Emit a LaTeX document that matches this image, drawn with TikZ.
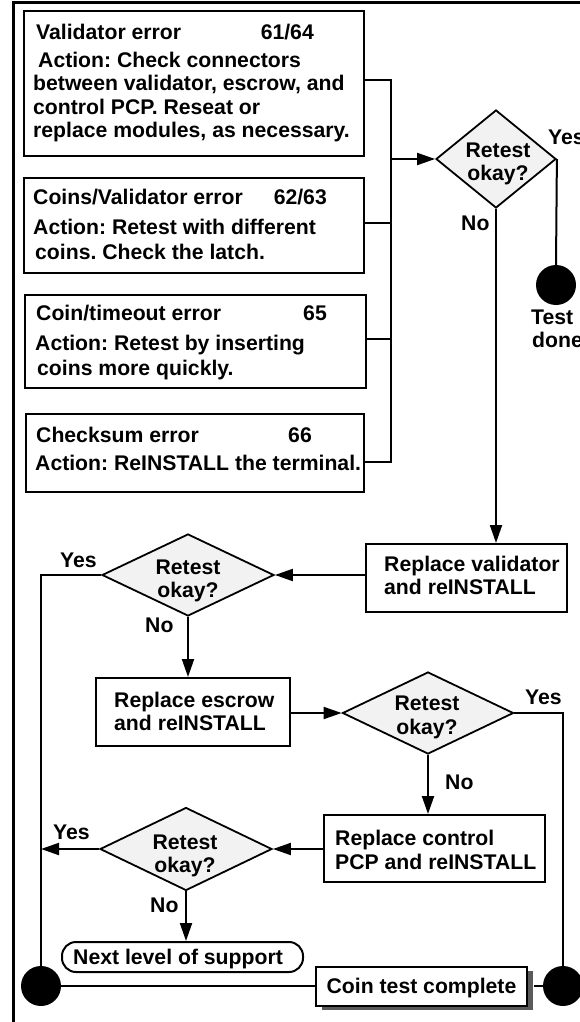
\documentclass[tikz,border=0pt]{standalone}
\usepackage{fontspec}
\setmainfont{Liberation Sans}
\usetikzlibrary{arrows.meta,shapes.geometric,shadows}
\definecolor{diagray}{HTML}{F2F2F2}
\definecolor{shadowgray}{HTML}{5A5A5A}
\frenchspacing
\begin{document}
\begin{tikzpicture}[x=1pt,y=-1pt,
  every node/.style={font=\fontsize{21.2}{24}\selectfont\bfseries},
  box/.style={draw, line width=2pt, inner sep=0pt, rectangle},
  dia/.style={draw, line width=1.8pt, shape=diamond, fill=diagray, inner sep=0pt},
  dot/.style={circle, fill=black, inner sep=0pt, minimum size=40pt},
  txt/.style={inner sep=0pt, text height=15.2pt, text depth=0pt, anchor=west},
  lab/.style={inner sep=0pt, text height=15.2pt, text depth=0pt, anchor=center},
  conn/.style={line width=2pt},
  arr/.style={line width=2pt, -{Triangle[length=18pt,width=12pt]}}]
\useasboundingbox (0,0) rectangle (579,1022);
% frame
\draw[line width=3pt] (13,1040) -- (13,3) -- (600,3);
% error boxes
\node[box, minimum width=340pt, minimum height=145pt] (b1) at (194,83.5) {};
\node[txt] (t1a) at (36,32) {Validator error};
\node[txt, anchor=east] (t1n) at (314,32) {61/64};
\node[txt] (t1b) at (38,60) {Action: Check connectors};
\node[txt] (t1c) at (33,83) {between validator, escrow, and};
\node[txt] (t1d) at (33,107) {control PCP. Reseat or};
\node[txt] (t1e) at (33,130) {replace modules, as necessary.};

\node[box, minimum width=340pt, minimum height=95pt] (b2) at (194,225.5) {};
\node[txt] (t2a) at (33,197) {Coins/Validator error};
\node[txt, anchor=east] (t2n) at (327,197) {62/63};
\node[txt] (t2b) at (33,227) {Action: Retest with different};
\node[txt] (t2c) at (35,252) {coins. Check the latch.};

\node[box, minimum width=341pt, minimum height=93pt] (b3) at (195.5,341.5) {};
\node[txt] (t3a) at (36,313) {Coin/timeout error};
\node[txt, anchor=east] (t3n) at (327,313) {65};
\node[txt] (t3b) at (35,343) {Action: Retest by inserting};
\node[txt] (t3c) at (37,368) {coins more quickly.};

\node[box, minimum width=338pt, minimum height=78pt] (b4) at (195,453) {};
\node[txt] (t4a) at (36,435) {Checksum error};
\node[txt, anchor=east] (t4n) at (312,435) {66};
\node[txt] (t4b) at (35,463) {Action: ReINSTALL the terminal.};

% bus
\coordinate (j1) at (391,80);
\coordinate (j2) at (391,223);
\coordinate (j3) at (391,339);
\coordinate (j4) at (391,462);
\draw[conn] (b1.east |- j1) -- (j1) -- (j4) -- (b4.east |- j4);
\draw[conn] (b2.east |- j2) -- (j2);
\draw[conn] (b3.east |- j3) -- (j3);

% decision 1
\node[dia, minimum width=120pt, minimum height=98pt] (d1) at (496,159) {};
\node[lab] (d1a) at (498,150) {Retest};
\node[lab] (d1b) at (498,173) {okay?};
\draw[arr] (j1 |- d1.west) -- (d1.west);
\node[dot] (c1) at (556,285) {};
\draw[conn] (d1.east) -- (c1.north);
\node[txt] (y1) at (548,137) {Yes};
\node[txt] (n1) at (461,223) {No};
\node[txt] (td1) at (531,317) {Test};
\node[txt] (td2) at (532,340) {done};

% replace validator
\node[box, minimum width=201pt, minimum height=68pt] (bv) at (466.5,578) {};
\node[txt] (tva) at (384,564) {Replace validator};
\node[txt] (tvb) at (384,587) {and reINSTALL};
\draw[arr] (d1.south) -- (d1.south |- bv.north);

% decision 2
\node[dia, minimum width=172pt, minimum height=82pt] (d2) at (188,575) {};
\node[lab] (d2a) at (188,567) {Retest};
\node[lab] (d2b) at (188,590) {okay?};
\draw[arr] (bv.west |- d2.east) -- (d2.east);
\node[dot] (c3) at (41,986) {};
\draw[conn] (d2.west) -| (c3);
\node[txt] (y2) at (60,560) {Yes};
\node[txt] (n2) at (145,625) {No};

% replace escrow
\node[box, minimum width=194pt, minimum height=68pt] (be) at (193,712) {};
\node[txt] (tea) at (114,700) {Replace escrow};
\node[txt] (teb) at (114,723) {and reINSTALL};
\draw[arr] (d2.south) -- (d2.south |- be.north);

% decision 3
\node[dia, minimum width=171pt, minimum height=82pt] (d3) at (428,713) {};
\node[lab] (d3a) at (427,703) {Retest};
\node[lab] (d3b) at (427,727) {okay?};
\draw[arr] (be.east |- d3.west) -- (d3.west);
\node[dot] (c2) at (563,986) {};
\draw[conn] (d3.east) -| (c2);
\node[txt] (y3) at (525,697) {Yes};
\node[txt] (n3) at (445,782) {No};

% replace control
\node[box, minimum width=221pt, minimum height=67pt] (bc) at (434.5,848.5) {};
\node[txt] (tca) at (335,838) {Replace control};
\node[txt] (tcb) at (335,862) {PCP and reINSTALL};
\draw[arr] (d3.south) -- (d3.south |- bc.north);

% decision 4
\node[dia, minimum width=172pt, minimum height=83pt] (d4) at (186,849) {};
\node[lab] (d4a) at (185,842) {Retest};
\node[lab] (d4b) at (185,865) {okay?};
\draw[arr] (bc.west |- d4.east) -- (d4.east);
\draw[arr] (d4.west) -- (d4.west -| c3);
\node[txt] (y4) at (53,832) {Yes};
\node[txt] (n4) at (150,905) {No};

% next level
\node[box, rounded corners=14pt, minimum width=241pt, minimum height=30pt] (bn) at (182.5,957) {};
\node[txt] (tn) at (73,957) {Next level of support};
\draw[arr] (d4.south) -- (d4.south |- bn.north);

% coin test complete
\node[box, fill=white, minimum width=211pt, minimum height=39pt,
  drop shadow={shadow xshift=6pt, shadow yshift=-4pt, fill=shadowgray, opacity=1}] (bt) at (421.5,986) {};
\node[lab] (tt) at (bt.center) {Coin test complete};
\draw[conn] (c3) -- (bt.west);
\draw[conn] (bt.east) ++(6pt,0) -- (c2);
\end{tikzpicture}
\end{document}
